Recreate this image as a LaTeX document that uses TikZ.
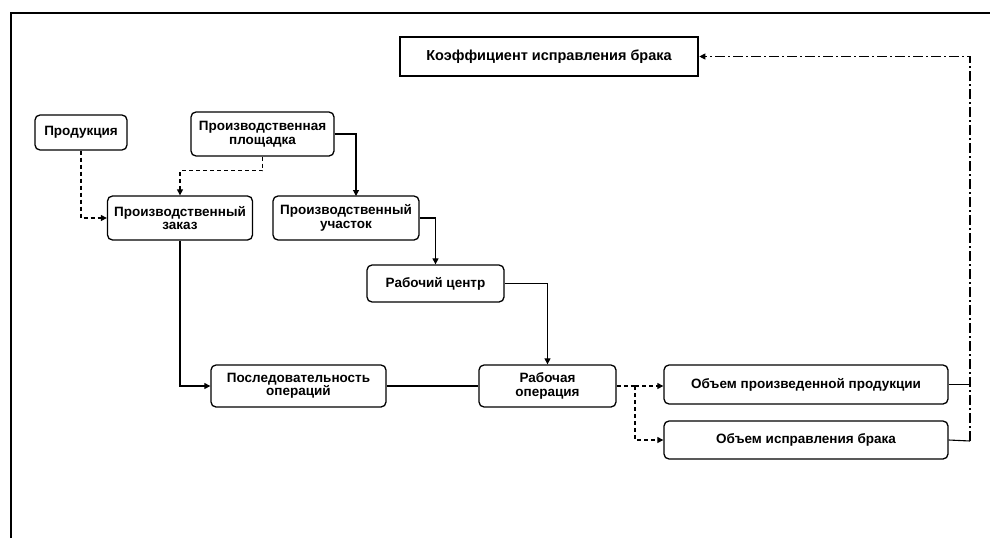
\documentclass[tikz,border=0pt]{standalone}
\usepackage{fontspec}
\setmainfont{Liberation Sans}
\usetikzlibrary{arrows.meta}
\begin{document}
\begin{tikzpicture}[x=1pt,y=-1pt,
  box/.style={draw,line width=1.3pt,rounded corners=5pt,align=center,inner sep=0pt,
    font=\fontsize{13.5}{13.5}\selectfont\bfseries},
  kbox/.style={draw,line width=2.6pt,align=center,inner sep=0pt,
    font=\fontsize{14.5}{15}\selectfont\bfseries},
  conn/.style={line width=1.1pt},
  arr/.style={-{Triangle[length=6pt,width=6pt]}},
  dsh/.style={dash pattern=on 4pt off 3pt},
  dshdot/.style={dash pattern=on 10pt off 3pt on 2pt off 3pt}]
\useasboundingbox (0,0) rectangle (990,538);
\draw[line width=1.3pt] (11,538) -- (11,13) -- (990,13);
\node[kbox,minimum width=298pt,minimum height=39pt] (koef) at (549,56.5) {Коэффициент исправления брака};
\node[box,minimum width=92pt,minimum height=35pt] (prod) at (81,132.5) {Продукция};
\node[box,minimum width=143pt,minimum height=44pt] (plosh) at (262.5,134) {Производственная\\площадка};
\node[box,minimum width=145pt,minimum height=44pt] (zakaz) at (180,218) {Производственный\\заказ};
\node[box,minimum width=146pt,minimum height=44pt] (uch) at (346,218) {Производственный\\участок};
\node[box,minimum width=137pt,minimum height=37pt] (rc) at (435.5,283.5) {Рабочий центр};
\node[box,minimum width=175pt,minimum height=42pt] (posl) at (298.5,386) {Последовательность\\операций};
\node[box,minimum width=137pt,minimum height=42pt] (rop) at (547.5,386) {Рабочая\\операция};
\node[box,minimum width=284pt,minimum height=39pt] (ob1) at (806,384.5) {Объем произведенной продукции};
\node[box,minimum width=284pt,minimum height=38pt] (ob2) at (806,440) {Объем исправления брака};
\coordinate (u1) at (356,196);
\coordinate (br) at (635,386);
\coordinate (rt) at (970,441);
% connectors
\draw[conn,dsh,arr] (prod.south) |- (zakaz.west);
\draw[conn,dsh,arr] (plosh.south) -- ++(0,14) -| (zakaz.north);
\draw[conn,arr] (plosh.east) -| (u1);
\draw[conn,arr] (uch.east) -| (rc.north);
\draw[conn,arr] (zakaz.south) |- (posl.west);
\draw[conn] (posl.east) -- (rop.west);
\draw[conn,arr] (rc.east) -| (rop.north);
\draw[conn,dsh] (rop.east) -- (br);
\draw[conn,dsh,arr] (br) -- (ob1.west |- br);
\draw[conn,dsh,arr] (br) |- (ob2.west);
\draw[conn] (ob1.east) -- (ob1.east -| rt);
\draw[conn] (ob2.east) -- (rt);
\draw[conn,dshdot,arr] (rt) |- (koef.east);
\end{tikzpicture}
\end{document}
